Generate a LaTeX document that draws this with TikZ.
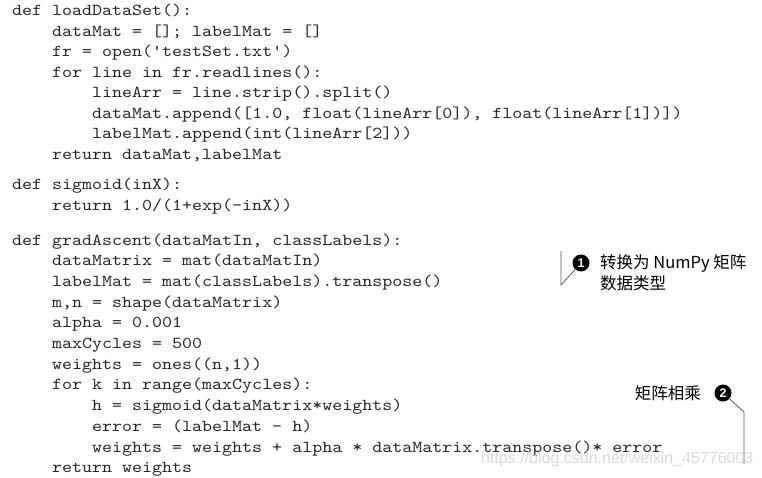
\documentclass[tikz,border=0pt]{standalone}
\usepackage{fontspec}
\newfontfamily\codefont[FakeStretch=1.143]{lmmono10-regular.otf}
\newfontfamily\cjk{Noto Sans CJK SC}
\newfontfamily\wmfont{Liberation Sans}
\tikzset{
	code/.style={anchor=base west, inner sep=0pt, font=\codefont\fontsize{16.67}{19}\selectfont, text=black!85},
	ann/.style={anchor=base west, inner sep=0pt, font=\cjk\fontsize{16.5}{21}\selectfont},
	badge/.style={circle, fill=black, inner sep=0pt, minimum size=17pt, text=white, font=\wmfont\bfseries\fontsize{12.5}{12.5}\selectfont},
	leader/.style={draw=black!65, line width=0.8pt}
}
\begin{document}
\begin{tikzpicture}[x=1pt, y=-1pt]
		\useasboundingbox (0,0) rectangle (762,478);

		% loadDataSet
		\node[code] (a0) at (12, 16) {def loadDataSet():};
		\node[code] (a1) at (52, 36.5) {dataMat = []; labelMat = []};
		\node[code] (a2) at (52, 57) {fr = open('testSet.txt')};
		\node[code] (a3) at (52, 77.5) {for line in fr.readlines():};
		\node[code] (a4) at (92, 98) {lineArr = line.strip().split()};
		\node[code] (a5) at (92, 118.5) {dataMat.append([1.0, float(lineArr[0]), float(lineArr[1])])};
		\node[code] (a6) at (92, 139) {labelMat.append(int(lineArr[2]))};
		\node[code] (a7) at (52, 159.5) {return dataMat,labelMat};

		% sigmoid
		\node[code] (b0) at (12, 190) {def sigmoid(inX):};
		\node[code] (b1) at (52, 210.7) {return 1.0/(1+exp(-inX))};

		% gradAscent
		\node[code] (c0) at (12, 245) {def gradAscent(dataMatIn, classLabels):};
		\node[code] (c1) at (52, 265.7) {dataMatrix = mat(dataMatIn)};
		\node[code] (c2) at (52, 286.4) {labelMat = mat(classLabels).transpose()};
		\node[code] (c3) at (52, 307.1) {m,n = shape(dataMatrix)};
		\node[code] (c4) at (52, 327.8) {alpha = 0.001};
		\node[code] (c5) at (52, 348.5) {maxCycles = 500};
		\node[code] (c6) at (52, 369.2) {weights = ones((n,1))};
		\node[code] (c7) at (52, 389.9) {for k in range(maxCycles):};
		\node[code] (c8) at (92, 410.6) {h = sigmoid(dataMatrix*weights)};
		\node[code] (c9) at (92, 431.3) {error = (labelMat - h)};
		\node[code] (c10) at (92, 452) {weights = weights + alpha * dataMatrix.transpose()* error};
		\node[code] (c11) at (52, 472.7) {return weights};

		% callout 1
		\node[badge] (n1) at (581, 263) {1};
		\node[ann] (t1) at (600, 268) {转换为 NumPy 矩阵};
		\node[ann] (t1b) at (600, 289) {数据类型};
		\coordinate (p1a) at (561, 251);
		\coordinate (p1b) at (561, 285);
		\draw[leader] (p1a) -- (p1b) -- (n1);

		% callout 2
		\node[ann, anchor=base east] (t2) at (701, 399) {矩阵相乘};
		\node[badge] (n2) at (723, 393) {2};
		\coordinate (p2a) at (744, 412);
		\coordinate (p2b) at (744, 464);
		\draw[leader] (n2) -- (p2a) -- (p2b);

		\node[anchor=base west, inner sep=0pt, font=\wmfont\fontsize{16}{16}\selectfont, text=black!15] (wm) at (481, 463) {https://blog.csdn.net/weixin\_45776003};
	\end{tikzpicture}
\end{document}
